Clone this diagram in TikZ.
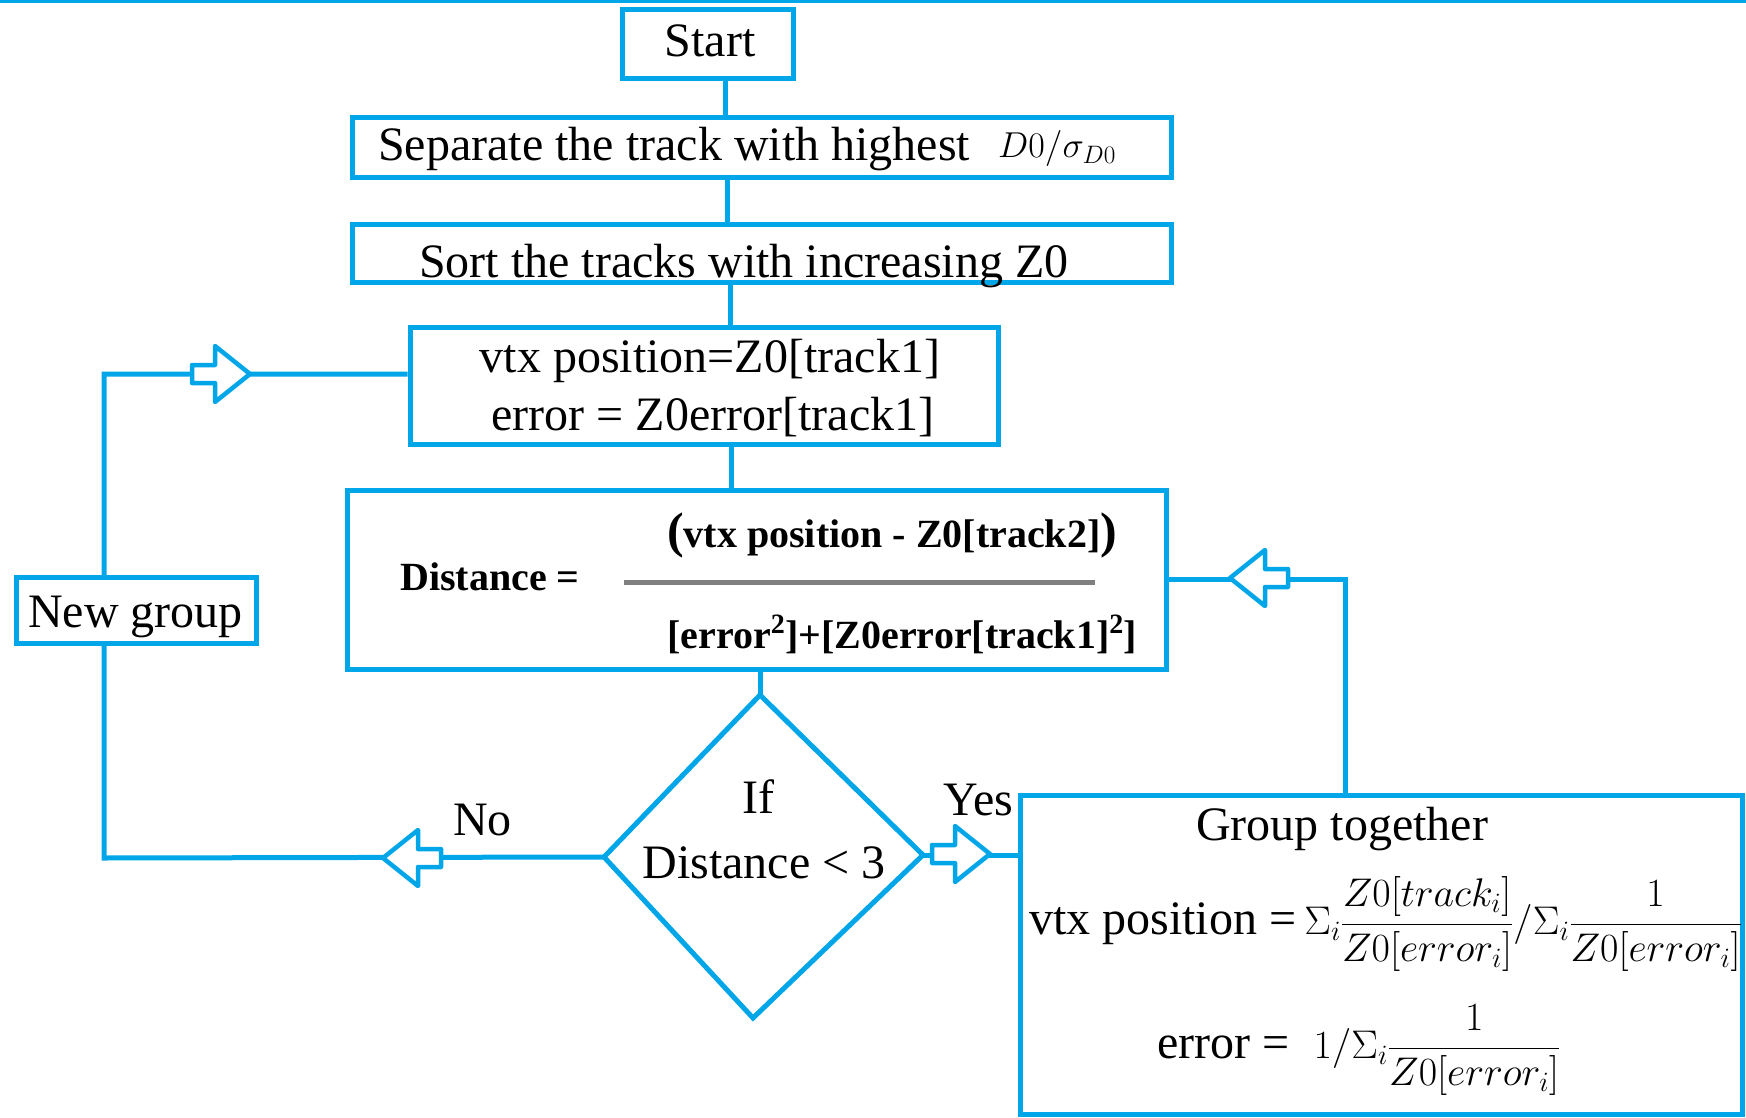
\documentclass[tikz,border=0pt]{standalone}
\usepackage{fix-cm}
\usepackage[no-math]{fontspec}
\setmainfont{Liberation Serif}
\usetikzlibrary{backgrounds}
\definecolor{flowblue}{RGB}{0,166,232}
\definecolor{barGray}{RGB}{128,128,128}
\tikzset{
  box/.style={draw=flowblue, line width=5pt, fill=white, inner sep=0pt, rectangle},
  link/.style={draw=flowblue, line width=5pt},
  txt/.style={font=\fontsize{48}{56}\selectfont, inner sep=0pt},
  boldtxt/.style={font=\fontsize{40}{48}\selectfont\bfseries, inner sep=0pt},
  pics/blockarrow/.style={code={
    \draw[flowblue, line width=4.5pt, fill=white, line join=round]
      (-58,-9) -- (-35,-9) -- (-35,-28) -- (0,0) -- (-35,28) -- (-35,9) -- (-58,9) -- cycle;
  }}
}
\begin{document}
\begin{tikzpicture}[x=1pt, y=-1pt]
\useasboundingbox (0,0) rectangle (1746,1118);

% rule along the top edge
\draw[flowblue, line width=3pt] (0,1.5) -- (1746,1.5);

% process boxes
\node[box, minimum width=171pt, minimum height=69pt] (start) at (707.5,44.5) {};
\node[box, minimum width=819pt, minimum height=60pt] (sep) at (761.5,148) {};
\node[box, minimum width=819pt, minimum height=57pt] (sort) at (761.5,253.5) {};
\node[box, minimum width=588pt, minimum height=117pt] (vtx) at (704,385.5) {};
\node[box, minimum width=819pt, minimum height=179pt] (dist) at (756.5,579.5) {};
\node[box, minimum width=240pt, minimum height=66pt] (ng) at (136,610) {};
\node[box, minimum width=722pt, minimum height=319pt] (gt) at (1381,954.5) {};

% decision diamond
\coordinate (dT) at (760,695);
\coordinate (dR) at (923,855);
\coordinate (dB) at (753,1018);
\coordinate (dL) at (604,857);
\draw[flowblue, line width=5pt, fill=white, line join=miter] (dT) -- (dR) -- (dB) -- (dL) -- cycle;

% loop corners
\coordinate (loopTL) at (104,374);
\coordinate (loopBL) at (104,858);

% connectors, kept behind the boxes
\begin{pgfonlayer}{background}
\draw[link] ([xshift=17.5pt]start.south) -- ([xshift=17.5pt]start.south |- sep.north);
\draw[link] ([xshift=-34.5pt]sep.south) -- ([xshift=-34.5pt]sep.south |- sort.north);
\draw[link] ([xshift=26pt]vtx.north) -- ([xshift=26pt]vtx.north |- sort.south);
\draw[link] ([xshift=27pt]vtx.south) -- ([xshift=27pt]vtx.south |- dist.north);
\draw[link] (dT) -- (dT |- dist.south);
\draw[link] (dR) -- (dR -| gt.west);
\draw[link] (dL) -- (loopBL) -- (loopTL) -- (loopTL -| vtx.west);
\draw[link] ([xshift=-36pt]gt.north) |- (dist.east);
\end{pgfonlayer}

% block arrows on the connectors
\pic at (250,374) {blockarrow};
\pic[rotate=180] at (383,858) {blockarrow};
\pic at (990,854) {blockarrow};
\pic[rotate=180] at (1230,578) {blockarrow};

% texts
\node[txt, anchor=base] (tStart) at (710,57) {Start};
\node[txt, anchor=base west] (tSep) at (378,161) {Separate the track with highest};
\node[inner sep=0pt, font=\fontsize{36}{40}\selectfont, anchor=base west] (tSepM) at (998,158) {$D0/\sigma_{D0}$};
\node[txt, anchor=base west] (tSort) at (419,277) {Sort the tracks with increasing Z0};
\node[txt, anchor=base] (tV1) at (710,372) {vtx position=Z0[track1]};
\node[txt, anchor=base] (tV2) at (713,430) {error = Z0error[track1]};
\node[txt, anchor=base west] (tNg) at (28,627) {New group};

\node[boldtxt, anchor=base west] (tDist) at (400,590) {Distance =};
\node[boldtxt, anchor=base west] (tNum) at (667,547)
  {{\fontsize{50}{50}\selectfont(}vtx position - Z0[track2]{\fontsize{50}{50}\selectfont)}};
\draw[barGray, line width=5pt] (624,582) -- (1095,582);
\node[boldtxt, anchor=base west] (tDen) at (667,648)
  {[error\textsuperscript{2}]+[Z0error[track1]\textsuperscript{2}]};

\node[txt, anchor=base] (tIf) at (758,813) {If};
\node[txt, anchor=base] (tCond) at (764,878) {Distance < 3};
\node[txt, anchor=base west] (tNo) at (453,835) {No};
\node[txt, anchor=base west] (tYes) at (943,815) {Yes};

\node[txt, anchor=base] (tGt) at (1342,840) {Group together};
\node[txt, anchor=base west] (tGv) at (1029,934)
  {vtx position =\,{\fontsize{40}{48}\selectfont$\Sigma_i\displaystyle\frac{Z0[track_i]}{Z0[error_i]}/\Sigma_i\frac{1}{Z0[error_i]}$}};
\node[txt, anchor=base west] (tGe) at (1157,1058)
  {error =\ \ {\fontsize{40}{48}\selectfont$1/\Sigma_i\displaystyle\frac{1}{Z0[error_i]}$}};
\end{tikzpicture}
\end{document}
